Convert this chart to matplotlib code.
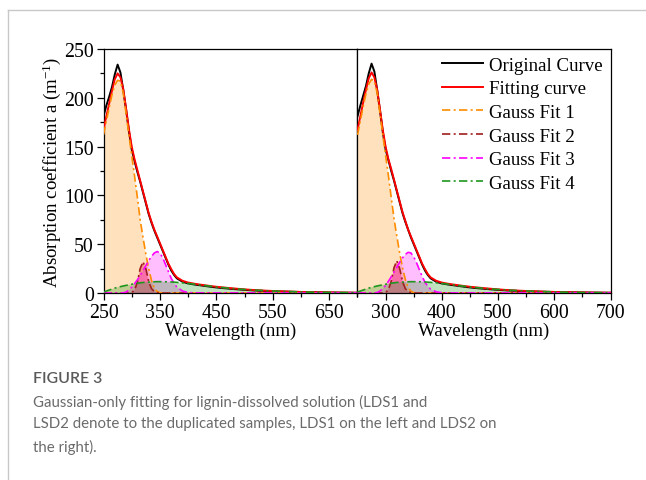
import matplotlib
matplotlib.use("Agg")
import matplotlib.pyplot as plt
from matplotlib.lines import Line2D

plt.rcParams['font.family'] = ['Liberation Serif', 'DejaVu Serif']
plt.rcParams['mathtext.fontset'] = 'custom'
plt.rcParams['mathtext.rm'] = 'Liberation Serif'
plt.rcParams['mathtext.it'] = 'Liberation Serif:italic'

# ---------------- data ----------------
wavelength = [250, 255, 260, 265, 270, 275, 280, 285, 290, 295, 300, 305, 310, 315, 320,
              325, 330, 335, 340, 345, 350, 355, 360, 365, 370, 375, 380, 390, 400, 410,
              420, 430, 440, 450, 460, 480, 500, 520, 540, 560, 580, 600, 620, 640, 660,
              680, 700]

# LDS1 (left)
lds1_original = [181, 192, 201, 211, 224, 234, 226, 208, 188, 166, 147, 135, 124, 114, 103,
                 92, 81, 72, 64, 57, 50, 43, 36, 29, 23, 18.5, 15, 11.5, 9.8, 8.8,
                 8.0, 7.2, 6.4, 5.7, 5.1, 4.1, 3.2, 2.5, 2.0, 1.6, 1.3, 1.0, 0.8, 0.6, 0.45,
                 0.35, 0.25]
lds1_fit = [167, 181, 194, 207, 219, 225, 221, 209, 189, 168, 150, 137, 126, 115, 104,
            93, 82, 73, 65, 58, 51, 44, 37, 30, 24.5, 19.5, 16, 12.5, 10.7, 9.6,
            8.7, 7.9, 7.1, 6.4, 5.8, 4.7, 3.7, 2.9, 2.3, 1.8, 1.4, 1.1, 0.85, 0.65, 0.5,
            0.35, 0.25]
lds1_gauss1 = [162, 176, 190, 203, 213, 218, 217, 205, 184, 162, 141, 120, 98, 75, 57,
               40, 25, 13, 5, 1.5, 0.3, 0, 0, 0, 0, 0, 0, 0, 0, 0,
               0, 0, 0, 0, 0, 0, 0, 0, 0, 0, 0, 0, 0, 0, 0,
               0, 0]
lds1_gauss2 = [0, 0, 0, 0, 0, 0, 0, 0, 0, 0, 0.5, 3, 11, 25, 32,
               25, 12, 4.5, 1.5, 0.4, 0.1, 0, 0, 0, 0, 0, 0, 0, 0, 0,
               0, 0, 0, 0, 0, 0, 0, 0, 0, 0, 0, 0, 0, 0, 0,
               0, 0]
lds1_gauss3 = [0, 0, 0, 0, 0, 0, 0, 0.2, 1, 3, 6, 9.5, 13.5, 18, 23,
               28, 33, 37.5, 41, 42.5, 41, 36, 29, 22, 15, 10, 6, 2, 0.5, 0.1,
               0, 0, 0, 0, 0, 0, 0, 0, 0, 0, 0, 0, 0, 0, 0,
               0, 0]
lds1_gauss4 = [1, 2, 3, 4, 5, 5.8, 6.5, 7.2, 7.8, 8.4, 9, 9.5, 10, 10.4, 10.8,
               11, 11.2, 11.4, 11.5, 11.6, 11.6, 11.6, 11.5, 11.4, 11.3, 11.1, 10.9, 10.4, 9.8, 9.1,
               8.4, 7.6, 6.9, 6.2, 5.6, 4.5, 3.6, 2.9, 2.3, 1.8, 1.4, 1.1, 0.8, 0.6, 0.45,
               0.3, 0.2]

# LDS2 (right)
lds2_original = [181, 192, 202, 212, 225, 235, 227, 208, 187, 165, 147, 136, 125, 115, 104,
                 93, 82, 73, 65, 57, 50, 43, 36, 29, 23, 18.5, 15, 11.5, 9.8, 8.8,
                 8.0, 7.2, 6.4, 5.7, 5.1, 4.1, 3.2, 2.5, 2.0, 1.6, 1.3, 1.0, 0.8, 0.6, 0.45,
                 0.35, 0.25]
lds2_fit = [167, 181, 195, 208, 220, 226, 221, 208, 188, 167, 150, 137, 127, 116, 105,
            94, 83, 74, 65, 58, 51, 44, 37, 30, 24.5, 19.5, 16, 12.5, 10.7, 9.6,
            8.7, 7.9, 7.1, 6.4, 5.8, 4.7, 3.7, 2.9, 2.3, 1.8, 1.4, 1.1, 0.85, 0.65, 0.5,
            0.35, 0.25]
lds2_gauss1 = [162, 176, 191, 204, 214, 219, 217, 205, 184, 162, 141, 120, 98, 76, 58,
               41, 26, 14, 6, 1.8, 0.4, 0, 0, 0, 0, 0, 0, 0, 0, 0,
               0, 0, 0, 0, 0, 0, 0, 0, 0, 0, 0, 0, 0, 0, 0,
               0, 0]
lds2_gauss2 = [0, 0, 0, 0, 0, 0, 0, 0, 0, 0, 0.5, 3.5, 12, 26, 33,
               25, 12, 4.5, 1.5, 0.4, 0.1, 0, 0, 0, 0, 0, 0, 0, 0, 0,
               0, 0, 0, 0, 0, 0, 0, 0, 0, 0, 0, 0, 0, 0, 0,
               0, 0]
lds2_gauss3 = [0, 0, 0, 0, 0, 0, 0, 0.5, 2, 4.5, 8, 12, 16.5, 21.5, 26.5,
               31.5, 36, 39.5, 41.7, 41, 37, 31, 24, 17, 11, 7, 4, 1.2, 0.3, 0.1,
               0, 0, 0, 0, 0, 0, 0, 0, 0, 0, 0, 0, 0, 0, 0,
               0, 0]
lds2_gauss4 = [1, 2, 3, 4, 5, 5.8, 6.5, 7.2, 7.8, 8.4, 9, 9.5, 10, 10.4, 10.8,
               11, 11.2, 11.4, 11.5, 11.6, 11.6, 11.6, 11.5, 11.4, 11.3, 11.1, 10.9, 10.4, 9.8, 9.1,
               8.4, 7.6, 6.9, 6.2, 5.6, 4.5, 3.6, 2.9, 2.3, 1.8, 1.4, 1.1, 0.8, 0.6, 0.45,
               0.3, 0.2]

legend_labels = ["Original Curve", "Fitting curve", "Gauss Fit 1", "Gauss Fit 2",
                 "Gauss Fit 3", "Gauss Fit 4"]
left_major_ticks = [250, 350, 450, 550, 650]
left_minor_ticks = [300, 400, 500, 600, 700]
right_major_ticks = [300, 400, 500, 600, 700]
right_minor_ticks = [250, 350, 450, 550, 650]
y_ticks = [0, 50, 100, 150, 200, 250]
y_minor_ticks = [25, 75, 125, 175, 225]

caption_title = "FIGURE 3"
caption_lines = ["Gaussian-only fitting for lignin-dissolved solution (LDS1 and",
                 "LSD2 denote to the duplicated samples, LDS1 on the left and LDS2 on",
                 "the right)."]

# ---------------- figure ----------------
W, H = 646, 481
fig = plt.figure(figsize=(W / 100, H / 100), dpi=100)

ax_bottom = 1 - 294 / H
ax_height = 244 / H
ax1 = fig.add_axes([103.5 / W, ax_bottom, 254 / W, ax_height])
ax2 = fig.add_axes([357.5 / W, ax_bottom, 253 / W, ax_height])

g_line_colors = ['#FF8C00', '#A01E1E', '#FF00FF', '#1E961E']
g_fill_colors = [('#FF8C00', 0.26), ('#F0284A', 0.42), ('#FF00FF', 0.25), ('#2CA02C', 0.3)]
FS = 13.6
TFS = 14.3


def draw(ax, orig, fit, gs):
    for g, (fc, a) in zip(gs, g_fill_colors):
        ax.fill_between(wavelength, 0, g, facecolor=fc, alpha=a, edgecolor='none', zorder=1)
    h_orig, = ax.plot(wavelength, orig, color='black', lw=1.4, zorder=3)
    h_fit, = ax.plot(wavelength, fit, color='red', lw=1.4, zorder=4)
    hs = []
    for g, c in zip(gs, g_line_colors):
        h, = ax.plot(wavelength, g, color=c, lw=1.2, ls=(0, (5, 2, 1.2, 2)), zorder=5)
        hs.append(h)
    ax.set_xlim(250, 700)
    ax.set_ylim(0, 250)
    for s in ax.spines.values():
        s.set_linewidth(0.9)
    ax.tick_params(which='major', direction='out', length=5, width=0.9, labelsize=TFS, pad=2)
    ax.tick_params(which='minor', direction='out', length=3, width=0.9)
    ax.set_xlabel("Wavelength (nm)", fontsize=FS, labelpad=0)
    return [h_orig, h_fit] + hs


handles = draw(ax1, lds1_original, lds1_fit, [lds1_gauss1, lds1_gauss2, lds1_gauss3, lds1_gauss4])
draw(ax2, lds2_original, lds2_fit, [lds2_gauss1, lds2_gauss2, lds2_gauss3, lds2_gauss4])

ax1.set_xticks(left_major_ticks)
ax1.set_xticks(left_minor_ticks, minor=True)
ax1.set_yticks(y_ticks)
ax1.set_yticks(y_minor_ticks, minor=True)
ax1.set_ylabel(r"Absorption coefficient a (m$^{\mathregular{-1}}$)", fontsize=FS, labelpad=1)

ax2.set_xticks(right_major_ticks)
ax2.set_xticks(right_minor_ticks, minor=True)
ax2.set_yticks([])
ax2.tick_params(axis='y', which='both', left=False, labelleft=False)

leg = ax2.legend(handles, legend_labels, loc='upper right', frameon=False, fontsize=FS,
                 handlelength=2.15, handletextpad=0.35, labelspacing=0.34,
                 borderaxespad=0.3, borderpad=0.1)

# caption
fig.text(33 / W, 1 - 379 / H, caption_title, fontsize=11.4, color='#5a5a5a',
         family=['Lato', 'DejaVu Sans'], weight='semibold', va='center', ha='left')
for i, line in enumerate(caption_lines):
    fig.text(33 / W, 1 - (402 + 22.5 * i) / H, line, fontsize=10.8, color='#6b6b6b',
             family=['Lato', 'DejaVu Sans'], va='center', ha='left')

# light frame around the figure panel
fig.add_artist(Line2D([7.5 / W, 1], [1 - 11 / H, 1 - 11 / H], transform=fig.transFigure,
                      color='#c8c8c8', lw=1.0))
fig.add_artist(Line2D([7.5 / W, 7.5 / W], [0, 1 - 11 / H], transform=fig.transFigure,
                      color='#c8c8c8', lw=1.0))

fig.savefig("out.png", dpi=100)
